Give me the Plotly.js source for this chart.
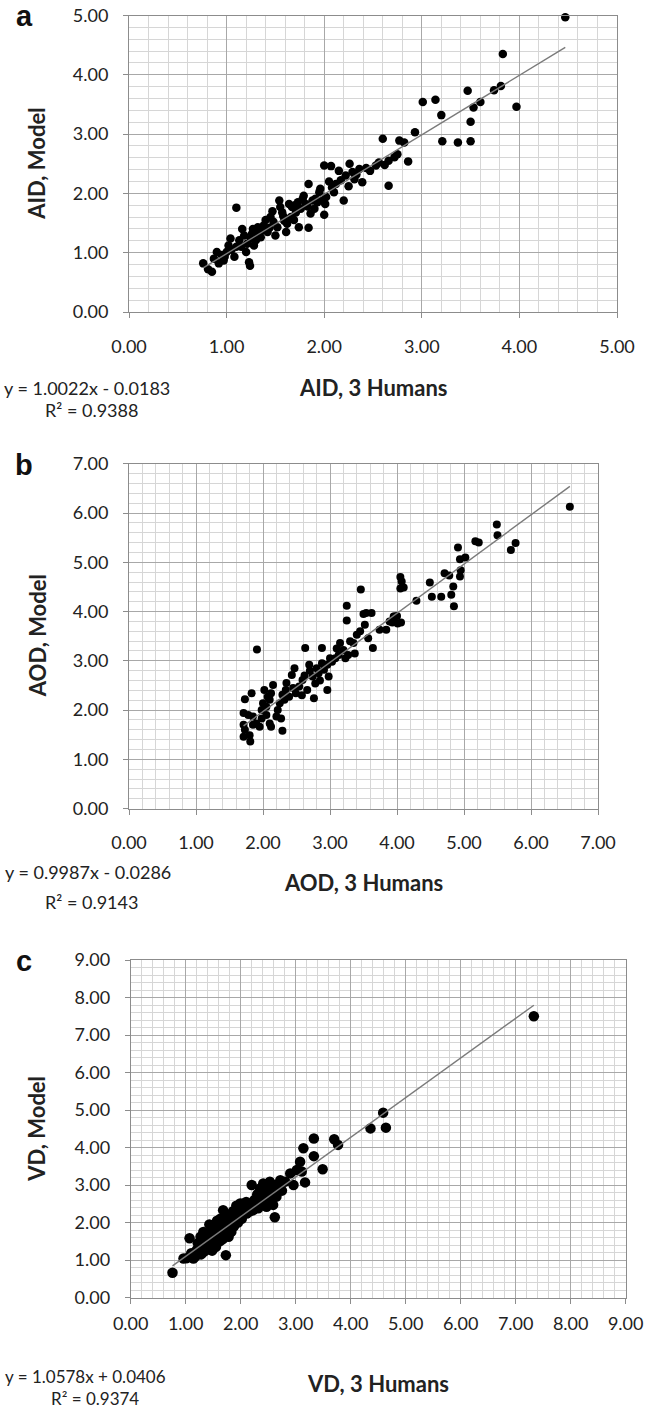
<!DOCTYPE html>
<html>
<head>
<meta charset="utf-8">
<script src="https://cdn.plot.ly/plotly-3.0.1.min.js"></script>
<style>html,body{margin:0;padding:0;background:#fff;}#chart{width:646px;height:1410px;}</style>
</head>
<body>
<div id="chart"></div>
<script>
// ---------- DATA ----------
// Panel a: AID, 3 Humans (x) vs AID, Model (y)
const aidPoints = [
 [0.76,0.82],[0.81,0.72],[0.85,0.68],[0.87,0.90],[0.90,1.01],[0.92,0.82],[0.95,0.96],[0.97,0.87],[0.98,0.93],
 [1.00,1.01],[1.02,1.12],[1.04,1.24],[1.05,1.05],[1.08,0.93],[1.10,1.10],[1.13,1.21],[1.15,1.10],[1.16,1.40],
 [1.18,1.29],[1.20,1.01],[1.23,0.84],[1.24,0.78],[1.21,1.15],[1.25,1.24],[1.26,1.32],[1.27,1.40],[1.28,1.12],
 [1.30,1.21],[1.32,1.43],[1.33,1.32],[1.35,1.26],[1.36,1.38],[1.10,1.76],
 [1.38,1.46],[1.40,1.55],[1.42,1.35],[1.44,1.42],[1.45,1.60],[1.47,1.70],[1.48,1.52],[1.50,1.29],[1.52,1.43],
 [1.54,1.88],[1.55,1.77],[1.57,1.68],[1.58,1.62],[1.59,1.54],[1.61,1.35],[1.62,1.49],[1.64,1.82],[1.66,1.60],
 [1.67,1.77],[1.69,1.55],[1.70,1.80],[1.71,1.68],[1.73,1.85],[1.74,1.43],[1.76,1.74],[1.78,1.91],[1.79,1.96],
 [1.81,1.82],[1.83,1.78],[1.84,2.16],[1.84,1.42],[1.86,1.66],[1.88,1.88],[1.90,1.74],[1.91,1.91],[1.93,1.85],
 [1.95,2.02],[1.96,2.08],[1.98,1.88],[2.00,1.64],[2.01,1.82],[2.02,1.94],[2.05,2.20],
 [2.00,2.47],[2.07,2.46],[2.08,2.10],[2.10,2.02],[2.12,2.16],[2.15,2.38],[2.17,2.22],[2.20,1.88],[2.22,2.30],
 [2.25,2.12],[2.26,2.50],[2.29,2.36],[2.31,2.24],[2.33,2.32],[2.36,2.41],[2.39,2.19],[2.43,2.43],[2.47,2.38],
 [2.53,2.47],[2.56,2.52],[2.60,2.92],[2.62,2.48],[2.66,2.13],[2.66,2.55],[2.72,2.61],[2.75,2.66],[2.77,2.89],
 [2.82,2.86],[2.86,2.54],[2.93,3.03],[3.21,2.88],
 [4.47,4.97],[3.83,4.35],[3.81,3.81],[3.74,3.74],[3.47,3.73],[3.60,3.54],[3.53,3.45],[3.97,3.46],[3.01,3.54],
 [3.14,3.58],[3.20,3.32],[3.50,3.21],[3.50,2.88],[3.37,2.86]
];
// Panel b: AOD, 3 Humans (x) vs AOD, Model (y)
const aodPoints = [
 [1.91,3.23],[3.25,4.12],[3.25,3.82],[3.46,4.45],[2.63,3.26],[2.88,3.26],[3.50,3.95],[3.54,3.97],[3.62,3.97],
 [3.52,3.73],[3.57,3.46],[3.64,3.26],[3.74,3.63],[3.89,3.80],[3.96,3.90],[4.01,3.76],[3.40,3.53],[3.35,3.36],
 [3.15,3.36],[3.20,3.22],[3.13,3.12],[3.08,3.05],[3.27,3.12],[3.37,3.15],[3.23,3.05],[3.03,2.98],[2.96,2.92],
 [2.91,2.82],[2.98,2.68],[2.96,2.41],[2.83,2.75],[2.74,2.68],[2.69,2.92],[2.78,2.54],[2.76,2.24],[2.66,2.41],
 [2.59,2.61],[2.54,2.48],[2.47,2.85],[2.43,2.71],[2.49,2.34],[2.39,2.27],[2.34,2.41],[2.32,2.21],[2.29,2.31],
 [2.25,2.14],[2.22,2.00],[2.15,2.51],[2.12,2.34],[2.10,2.21],[2.05,2.07],[2.02,2.41],[2.07,2.27],[2.00,2.14],
 [1.98,2.00],[2.10,1.73],[2.12,1.66],[1.95,1.66],[1.90,1.73],[1.85,1.70],[1.83,2.34],[1.73,2.22],[1.71,1.94],
 [1.78,1.90],[1.71,1.70],[1.73,1.60],[1.71,1.46],[1.80,1.49],[1.81,1.36],[2.29,1.58],[2.20,1.87],[2.27,1.83],
 [1.98,1.83],[2.05,1.90],[1.85,1.87],[3.10,3.25],[3.00,3.05],[2.88,2.95],[2.80,2.85],[2.70,2.80],[2.62,2.70],
 [3.30,3.40],[3.45,3.60],[2.45,2.45],[2.35,2.55],[2.58,2.30],[2.85,2.60],
 [6.58,6.13],[5.49,5.77],[5.50,5.55],[5.17,5.43],[5.22,5.40],[5.77,5.39],[5.70,5.25],[4.91,5.30],[4.94,5.06],
 [5.02,5.10],[4.95,4.84],[4.94,4.71],[4.71,4.78],[4.78,4.73],[4.49,4.59],[4.84,4.51],[4.81,4.34],[4.85,4.11],
 [4.66,4.30],[4.52,4.30],[4.29,4.22],[4.05,4.70],[4.07,4.61],[4.05,4.47],[4.10,4.49],[4.00,3.91],[3.93,3.78],
 [4.06,3.78],[3.84,3.63],[3.95,3.90]
];
// Panel c: VD, 3 Humans (x) vs VD, Model (y)
const vdPoints = [
 [0.76,0.66],[0.96,1.04],[1.07,1.58],[1.02,1.05],[1.14,1.04],[1.10,1.18],[1.20,1.27],[1.18,1.10],[1.25,1.30],
 [1.28,1.15],[1.30,1.45],[1.33,1.22],[1.35,1.60],[1.38,1.40],[1.40,1.70],[1.42,1.28],[1.45,1.55],[1.47,1.80],
 [1.50,1.45],[1.52,1.65],[1.55,1.35],[1.56,1.53],[1.58,1.90],[1.60,1.70],[1.62,1.50],[1.65,1.80],[1.68,2.33],
 [1.70,1.95],[1.72,1.65],[1.73,1.13],[1.75,2.05],[1.78,1.62],[1.80,1.85],[1.81,1.98],[1.85,2.10],[1.88,1.90],
 [1.90,2.25],[1.93,2.16],[1.95,2.00],[1.99,2.51],[2.00,2.30],[2.02,2.10],[2.05,2.33],[2.08,2.45],[2.11,2.24],
 [2.15,2.40],[2.20,3.00],[2.23,2.33],[2.28,2.55],[2.32,2.38],[2.35,2.91],[2.38,2.65],[2.41,3.04],[2.44,2.75],
 [2.47,2.42],[2.50,2.69],[2.53,3.09],[2.55,2.85],[2.59,2.47],[2.62,2.14],[2.65,2.69],[2.68,2.95],[2.72,3.13],
 [2.75,2.85],[2.81,3.09],[2.90,3.31],[2.96,3.00],[3.02,3.40],[3.08,3.62],[3.11,3.36],[3.17,3.07],[3.14,3.98],
 [3.33,3.77],[3.33,4.24],[3.49,3.42],[3.70,4.22],[3.77,4.07],[4.36,4.51],[4.64,4.53],[4.59,4.93],[7.33,7.50],
 [1.22,1.45],[1.27,1.62],[1.32,1.75],[1.37,1.52],[1.43,1.95],[1.48,1.25],[1.53,1.88],[1.57,2.05],[1.63,2.10],
 [1.67,1.55],[1.74,2.20],[1.83,1.75],[1.86,2.30],[1.92,2.45],[1.97,2.20],[2.03,2.50],[2.10,2.55],[2.17,2.30],
 [2.25,2.60],[2.30,2.75],[2.40,2.50],[2.45,2.95],[2.57,2.60],[2.63,3.00]
];
// Trendline coefficients (slope, intercept) as printed on the chart
const aidFit = [1.0022, -0.0183];
const aodFit = [0.9987, -0.0286];
const vdFit  = [1.0578, 0.0406];
// Axis maxima and texts
const axisMax = [5, 7, 9];
const panelLetters = ["a", "b", "c"];
const xTitles = ["AID, 3 Humans", "AOD, 3 Humans", "VD, 3 Humans"];
const yTitles = ["AID, Model", "AOD, Model", "VD, Model"];
const eqLabels = ["y = 1.0022x - 0.0183", "y = 0.9987x - 0.0286", "y = 1.0578x + 0.0406"];
const r2Labels = ["R² = 0.9388", "R² = 0.9143", "R² = 0.9374"];

// ---------- LAYOUT GEOMETRY (pixels) ----------
const W = 646, H = 1410;
const geo = [
  {l:129, r:617, t:15.5, b:312, msize:8.5, tickStand:13, eqY:388, r2Y:410, xtY:388, eqX:2, r2X:43, eqSize:18},
  {l:129, r:598, t:463.8, b:808.6, msize:8, tickStand:13, eqY:872, r2Y:902, xtY:882, eqX:3, r2X:43, eqSize:18},
  {l:130.7, r:625.7, t:960, b:1297.5, msize:10.5, tickStand:5, eqY:1376, r2Y:1398, xtY:1383, eqX:3, r2X:49, eqSize:17}
];
const datasets = [aidPoints, aodPoints, vdPoints];
const fits = [aidFit, aodFit, vdFit];

const FONT = 'Lato, "Open Sans", sans-serif';
const traces = [];
const layout = {
  width: W, height: H,
  margin: {l:0, r:0, t:0, b:0},
  paper_bgcolor: '#ffffff', plot_bgcolor: '#ffffff',
  showlegend: false,
  annotations: [],
  font: {family: FONT, color: '#222'}
};

function axisBase(max, standoff) {
  return {
    range: [0, max], tick0: 0, dtick: 1,
    showgrid: true, gridcolor: '#a8a8a8', gridwidth: 1,
    minor: {tick0: 0, dtick: 0.2, showgrid: true, gridcolor: '#d6d6d6', gridwidth: 1},
    showline: true, linecolor: '#8c8c8c', linewidth: 1, mirror: true,
    ticks: 'outside', ticklen: 5, tickcolor: '#8c8c8c', tickwidth: 1,
    tickformat: '.2f', tickfont: {family: FONT, size: 18, color: '#222'},
    ticklabelstandoff: standoff,
    zeroline: false, fixedrange: true
  };
}

for (let i = 0; i < 3; i++) {
  const g = geo[i];
  const sfx = i === 0 ? '' : String(i + 1);
  const pts = datasets[i];
  const xs = pts.map(p => p[0]);
  const ys = pts.map(p => p[1]);
  traces.push({
    type: 'scatter', mode: 'markers', x: xs, y: ys,
    xaxis: 'x' + sfx, yaxis: 'y' + sfx, cliponaxis: false,
    marker: {color: '#000000', size: g.msize, line: {width: 0}},
    hoverinfo: 'x+y'
  });
  const xmin = Math.min(...xs), xmax = Math.max(...xs);
  const f = fits[i];
  traces.push({
    type: 'scatter', mode: 'lines',
    x: [xmin, xmax], y: [f[0] * xmin + f[1], f[0] * xmax + f[1]],
    xaxis: 'x' + sfx, yaxis: 'y' + sfx,
    line: {color: '#7a7a7a', width: 1.4}, hoverinfo: 'skip'
  });
  const xa = axisBase(axisMax[i], 13);
  xa.domain = [g.l / W, g.r / W];
  xa.anchor = 'y' + sfx;
  xa.ticklabelstandoff = g.tickStand;
  const ya = axisBase(axisMax[i], 11);
  ya.domain = [1 - g.b / H, 1 - g.t / H];
  ya.anchor = 'x' + sfx;
  layout['xaxis' + sfx] = xa;
  layout['yaxis' + sfx] = ya;

  const ann = layout.annotations;
  // panel letter
  ann.push({text: '<b>' + panelLetters[i] + '</b>', xref: 'paper', yref: 'paper',
    x: 24 / W, y: 1 - (g.t + 1) / H, xanchor: 'center', yanchor: 'middle', showarrow: false,
    font: {family: '"Liberation Sans", Arial, sans-serif', size: 29, color: '#111'}});
  // y title
  ann.push({text: '<b>' + yTitles[i] + '</b>', xref: 'paper', yref: 'paper', textangle: -90,
    x: 37 / W, y: 1 - ((g.t + g.b) / 2) / H, xanchor: 'center', yanchor: 'middle', showarrow: false,
    font: {family: FONT, size: 22, color: '#222'}});
  // x title
  ann.push({text: '<b>' + xTitles[i] + '</b>', xref: 'paper', yref: 'paper',
    x: ((g.l + g.r) / 2) / W, y: 1 - g.xtY / H, xanchor: 'center', yanchor: 'middle', showarrow: false,
    font: {family: FONT, size: 22, color: '#222'}});
  // equation and R2
  ann.push({text: eqLabels[i], xref: 'paper', yref: 'paper',
    x: g.eqX / W, y: 1 - g.eqY / H, xanchor: 'left', yanchor: 'middle', showarrow: false,
    font: {family: FONT, size: g.eqSize, color: '#222'}});
  ann.push({text: r2Labels[i], xref: 'paper', yref: 'paper',
    x: g.r2X / W, y: 1 - g.r2Y / H, xanchor: 'left', yanchor: 'middle', showarrow: false,
    font: {family: FONT, size: g.eqSize, color: '#222'}});
}

Plotly.newPlot('chart', traces, layout, {staticPlot: true, displayModeBar: false});
</script>
</body>
</html>
